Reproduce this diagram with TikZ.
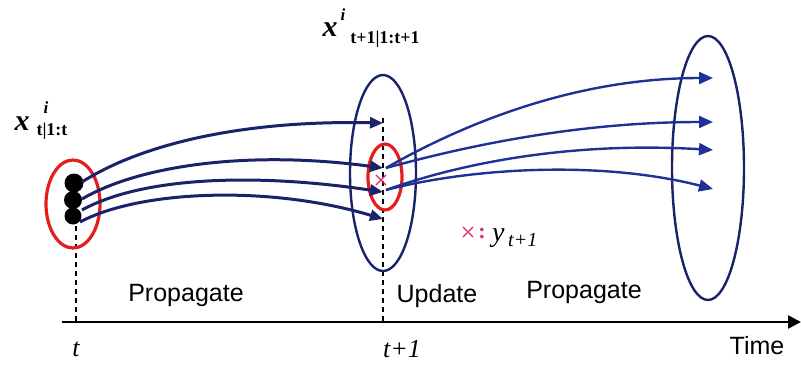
\documentclass[tikz,border=0pt]{standalone}
\usepackage{fontspec}
\setmainfont{Liberation Serif}
\setsansfont{Liberation Sans}
\usetikzlibrary{arrows.meta,shapes.geometric}
\definecolor{navy}{RGB}{25,35,105}
\definecolor{bluel}{RGB}{30,50,150}
\definecolor{redc}{RGB}{228,30,30}
\definecolor{pinkc}{RGB}{225,40,100}
\tikzset{
  ell/.style={ellipse,draw=navy,line width=2.4pt,inner sep=0pt},
  redell/.style={ellipse,draw=redc,line width=3.2pt,inner sep=0pt},
  parr/.style={navy,line width=3pt,-{Triangle[length=13pt,width=11pt]}},
  barr/.style={bluel,line width=2.4pt,-{Triangle[length=14pt,width=12pt]}},
  dashln/.style={black,line width=1.6pt,dash pattern=on 5pt off 4pt},
  blob/.style={circle,fill=black,inner sep=0pt},
  crossln/.style={pinkc,line width=1.4pt},
  sanslab/.style={font=\sffamily\fontsize{25}{25}\selectfont,inner sep=0pt},
  itlab/.style={font=\itshape\fontsize{26}{26}\selectfont,inner sep=0pt},
  bigx/.style={font=\bfseries\itshape\fontsize{30}{30}\selectfont,inner sep=0pt},
  supi/.style={font=\bfseries\itshape\fontsize{17}{17}\selectfont,inner sep=0pt},
  subl/.style={font=\bfseries\fontsize{18}{18}\selectfont,inner sep=0pt},
}
\begin{document}
\begin{tikzpicture}[x=1pt,y=-1pt]
\useasboundingbox (0,0) rectangle (801,370);
% axis
\coordinate (a0) at (62,322);
\coordinate (a1) at (801,322);
\draw[black,line width=2.5pt,-{Triangle[length=13pt,width=13pt]}] (a0) -- (a1);
% dashed time markers
\coordinate (d1) at (76,226);
\coordinate (d2) at (76,322);
\coordinate (d3) at (383,118);
\coordinate (d4) at (383,322);
\draw[dashln] (d1) -- (d2);
\draw[dashln] (d3) -- (d4);
% ellipses
\node[redell,minimum width=54pt,minimum height=88pt] (lo) at (73,204) {};
\node[ell,minimum width=66pt,minimum height=196pt] (mo) at (383,173) {};
\node[redell,minimum width=34pt,minimum height=66pt] (mi) at (385,177) {};
\node[ell,minimum width=72pt,minimum height=264pt] (ro) at (708,168) {};
% particles
\node[blob,minimum size=19pt] (b1) at (74,183) {};
\node[blob,minimum size=18pt] (b2) at (73,200) {};
\node[blob,minimum size=17pt] (b3) at (73,216) {};
% propagate arrows t -> t+1
\coordinate (s1) at (82,182);
\coordinate (s2) at (82,199);
\coordinate (s3) at (82,210);
\coordinate (s4) at (80,222);
\coordinate (m1) at (383,123);
\coordinate (m2) at (383,168);
\coordinate (m3) at (383,192);
\coordinate (m4) at (383,219);
\draw[parr] (s1) .. controls (140,145) and (240,120) .. (m1);
\draw[parr] (s2) .. controls (140,165) and (250,150) .. (m2);
\draw[parr] (s3) .. controls (140,178) and (250,172) .. (m3);
\draw[parr] (s4) .. controls (140,190) and (270,185) .. (m4);
% propagate arrows t+1 -> t+2
\coordinate (r1) at (386,168);
\coordinate (r2) at (386,190);
\coordinate (e1) at (713,78);
\coordinate (e2) at (713,122);
\coordinate (e3) at (713,150);
\coordinate (e4) at (713,189);
\draw[barr] (r1) .. controls (470,120) and (580,78) .. (e1);
\draw[barr] (r1) .. controls (470,145) and (580,122) .. (e2);
\draw[barr] (r2) .. controls (470,160) and (580,142) .. (e3);
\draw[barr] (r2) .. controls (470,168) and (600,160) .. (e4);
% observation crosses
\coordinate (c1) at (381,180);
\draw[crossln] ([shift={(-5,-5)}]c1) -- ([shift={(5,5)}]c1) ([shift={(-5,5)}]c1) -- ([shift={(5,-5)}]c1);
\coordinate (c2) at (468,232);
\draw[crossln] ([shift={(-5,-5)}]c2) -- ([shift={(5,5)}]c2) ([shift={(-5,5)}]c2) -- ([shift={(5,-5)}]c2);
\node[pinkc,font=\bfseries\fontsize{22}{22}\selectfont,inner sep=0pt] (col) at (482,233) {:};
\node[itlab,font=\itshape\fontsize{28}{28}\selectfont,anchor=base west] (yy) at (492,241) {y};
\node[itlab,font=\itshape\fontsize{20}{20}\selectfont,anchor=base west] (yyt) at (508,246) {t+1};
% particle labels
\node[bigx] (xl) at (22,124) {x};
\node[supi] (il) at (46,108) {i};
\node[subl] (sl) at (52,131) {t|1:t};
\node[bigx] (xt) at (330,30) {x};
\node[supi] (it) at (343,15) {i};
\node[subl] (st) at (385,39) {t+1|1:t+1};
% phase labels
\node[sanslab] (p1) at (186,295) {Propagate};
\node[sanslab] (up) at (437,296) {Update};
\node[sanslab] (p2) at (584,292) {Propagate};
% time labels
\node[itlab] (tt) at (76,349) {t};
\node[itlab] (tt1) at (402,349) {t+1};
\node[sanslab] (tm) at (757,346) {Time};
\end{tikzpicture}
\end{document}
